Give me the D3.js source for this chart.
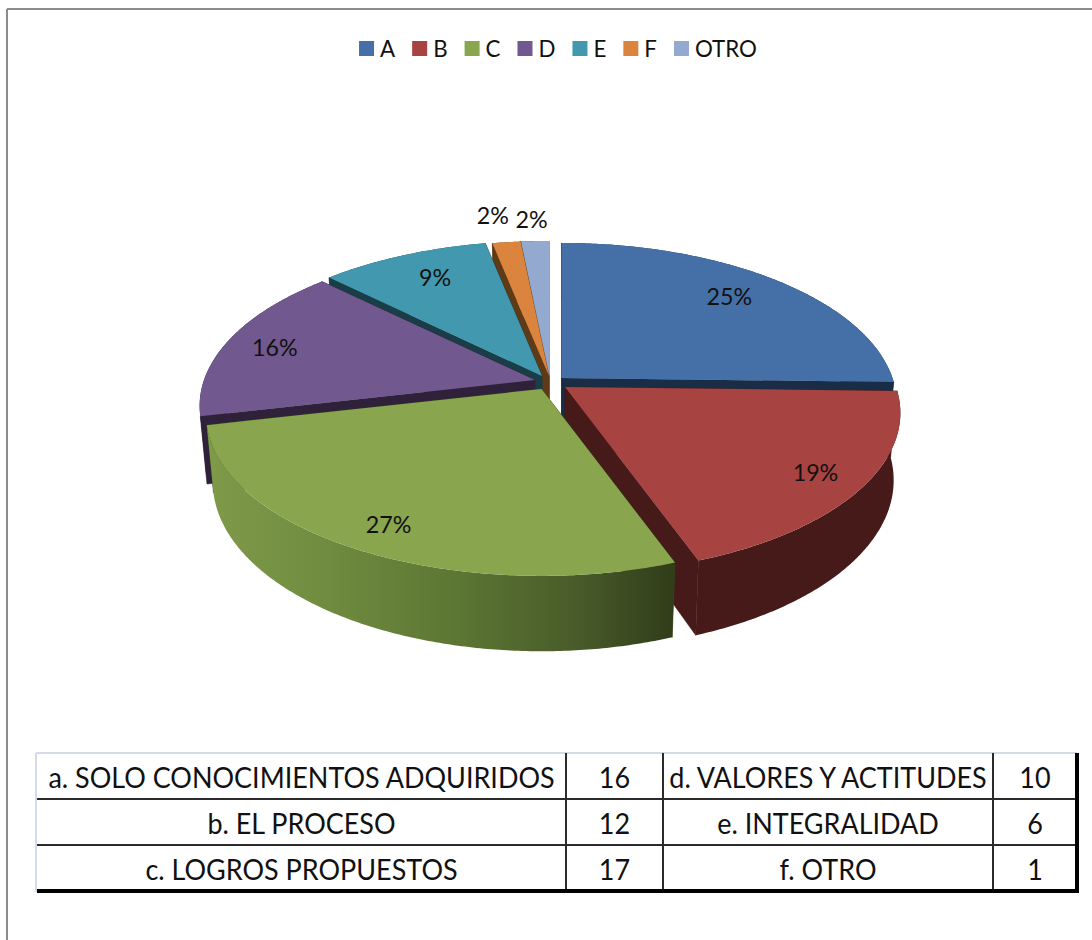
<!DOCTYPE html>
<html>
<head>
<meta charset="utf-8">
<script src="https://cdn.jsdelivr.net/npm/d3@7"></script>
<style>
html, body { margin: 0; padding: 0; background: #fff; }
text { font-family: Lato, "Open Sans", sans-serif; fill: #111; }
</style>
</head>
<body>
<svg id="chart" width="1092" height="940"></svg>
<script>
// data
const categories = ["A", "B", "C", "D", "E", "F", "OTRO"];
const values = [16, 12, 17, 10, 6, 1, 1];
const percentLabels = ["25%", "19%", "27%", "16%", "9%", "2%", "2%"];

const tableLeftNames = ["a. SOLO CONOCIMIENTOS ADQUIRIDOS", "b. EL PROCESO", "c. LOGROS PROPUESTOS"];
const tableLeftValues = [16, 12, 17];
const tableRightNames = ["d. VALORES Y ACTITUDES", "e. INTEGRALIDAD", "f. OTRO"];
const tableRightValues = [10, 6, 1];

// look of each slice
const topColors = ["#4570a7", "#a74341", "#89a54e", "#71588f", "#4198af", "#db843d", "#93a9cf"];
const wallColors = ["#1a2d46", "#451a19", "#3a4a20", "#2f2139", "#1a3e48", "#5f3a17", "#3e4859"];
const explodeX = [561.5, 565, 541.5, 535, 542, 549, 549];
const explodeY = [378, 387, 389, 380, 376, 376, 376];
const labelFrac = [0.78, 0.86, 0.85, 0.84, 0.77, 1.24, 1.18];
const labelDx = [-2, -1, 0, -2, 3, -5, -1];
const labelDy = [-3, 0, 2, 2, -3, 0, -1];
// painter's order, back slices first
const drawOrder = [6, 5, 4, 3, 0, 1, 2];

// Calibri-like narrowing of Lato
const narrow = 0.93;

const svg = d3.select("#chart");

function narrowText(parent, x, y, size, anchor, str, squeeze = narrow) {
    return parent.append("text")
        .attr("transform", `translate(${x},${y}) scale(${squeeze},1)`)
        .attr("text-anchor", anchor)
        .style("font-size", `${size}px`)
        .text(str);
}

/*
| Frame
*/
const frame = svg.append("g").attr("stroke", "#8c8c8c").attr("stroke-width", 2);
frame.append("line").attr("x1", 7).attr("x2", 1092).attr("y1", 9).attr("y2", 9);
frame.append("line").attr("x1", 7).attr("x2", 7).attr("y1", 9).attr("y2", 940);

/*
| Legend
*/
const legend = svg.append("g").attr("class", "legend");
let legendX = 0;
categories.forEach((c, i) => {
    const item = legend.append("g").attr("transform", `translate(${legendX},0)`);
    item.append("rect").attr("y", 41).attr("width", 15).attr("height", 15).attr("fill", topColors[i]);
    const t = narrowText(item, 21, 57, 24, "start", c);
    legendX += 21 + t.node().getComputedTextLength() * narrow + 17;
});
legend.attr("transform", `translate(${558 - (legendX - 17) / 2},0)`);

/*
| Pie, a perspective view of a disk
*/
const radiusX = 331;
const radiusY = 156.8;
const persp = 0.161;
const depth = 66;
const bottomScaleX = 0.98;
const bottomScaleY = 1.05;

const slices = d3.pie().sort(null).value(d => d)(values);

function project(i, angle, frac, bottom) {
    const X = frac * Math.sin(angle);
    const Y = -frac * Math.cos(angle);
    const s = 1 / (1 - persp * Y);
    if (bottom) {
        return [explodeX[i] + radiusX * X * s * bottomScaleX,
                explodeY[i] + depth + radiusY * Y * s * bottomScaleY];
    }
    return [explodeX[i] + radiusX * X * s, explodeY[i] + radiusY * Y * s];
}

function rimAngles(d) {
    const n = Math.max(4, Math.ceil((d.endAngle - d.startAngle) / 0.01));
    return d3.range(n + 1).map(k => d.startAngle + (d.endAngle - d.startAngle) * k / n);
}

const line = d3.line().curve(d3.curveLinear);

const defs = svg.append("defs");
const greenWall = defs.append("linearGradient")
    .attr("id", "greenWall")
    .attr("gradientUnits", "userSpaceOnUse")
    .attr("x1", 207).attr("x2", 674).attr("y1", 0).attr("y2", 0);
[[0, "#7f9a49"], [0.25, "#708c3f"], [0.55, "#5b7533"], [0.8, "#485a29"], [1, "#303d19"]].forEach(s => {
    greenWall.append("stop").attr("offset", s[0]).attr("stop-color", s[1]);
});

const pie = svg.append("g").attr("class", "pie");

drawOrder.forEach(i => {
    const d = slices[i];
    const g = pie.append("g");
    const angles = rimAngles(d);
    const rimTop = angles.map(a => project(i, a, 1, false));
    const rimBottom = angles.map(a => project(i, a, 1, true));

    // the two cut walls
    [d.startAngle, d.endAngle].forEach(a => {
        g.append("path")
            .attr("d", line([
                project(i, a, 0, false), project(i, a, 1, false),
                project(i, a, 1, true), project(i, a, 0, true)
            ]) + "Z")
            .attr("fill", wallColors[i])
            .attr("stroke", wallColors[i])
            .attr("stroke-width", 0.6);
    });

    // outer wall
    g.append("path")
        .attr("d", line(rimTop.concat(rimBottom.slice().reverse())) + "Z")
        .attr("fill", i === 2 ? "url(#greenWall)" : wallColors[i]);

    // top face
    g.append("path")
        .attr("d", line([project(i, 0, 0, false)].concat(rimTop)) + "Z")
        .attr("fill", topColors[i]);
});

// labels go on top of everything
slices.forEach((d, i) => {
    const p = project(i, (d.startAngle + d.endAngle) / 2, labelFrac[i], false);
    narrowText(svg, p[0] + labelDx[i], p[1] + labelDy[i] + 8.5, 24, "middle", percentLabels[i], 0.97);
});

/*
| Table under the chart
*/
const rowY = d3.scaleBand().domain(d3.range(3)).range([753, 891]);
const colX = [37, 566, 663, 993, 1077];
const table = svg.append("g").attr("class", "table");

// pale outer edge on the top and left
table.append("line").attr("x1", 36).attr("x2", 1077).attr("y1", 753).attr("y2", 753)
    .attr("stroke", "#d3dae8").attr("stroke-width", 2);
table.append("line").attr("x1", 36).attr("x2", 36).attr("y1", 753).attr("y2", 892)
    .attr("stroke", "#d3dae8").attr("stroke-width", 2);

d3.range(1, 3).forEach(r => {
    table.append("line").attr("x1", colX[0]).attr("x2", colX[4])
        .attr("y1", rowY(r)).attr("y2", rowY(r))
        .attr("stroke", "#2b2b2b").attr("stroke-width", 2);
});
colX.slice(1, 4).forEach(x => {
    table.append("line").attr("x1", x).attr("x2", x).attr("y1", 753).attr("y2", 891)
        .attr("stroke", "#2b2b2b").attr("stroke-width", 2);
});
table.append("line").attr("x1", colX[0]).attr("x2", 1079).attr("y1", 891).attr("y2", 891)
    .attr("stroke", "#000").attr("stroke-width", 4);
table.append("line").attr("x1", 1077).attr("x2", 1077).attr("y1", 753).attr("y2", 893)
    .attr("stroke", "#000").attr("stroke-width", 4);

[tableLeftNames, tableLeftValues, tableRightNames, tableRightValues].forEach((column, c) => {
    column.forEach((v, r) => {
        narrowText(table, (colX[c] + colX[c + 1]) / 2, rowY(r) + rowY.bandwidth() / 2 + 12, 29, "middle", v);
    });
});
</script>
</body>
</html>
